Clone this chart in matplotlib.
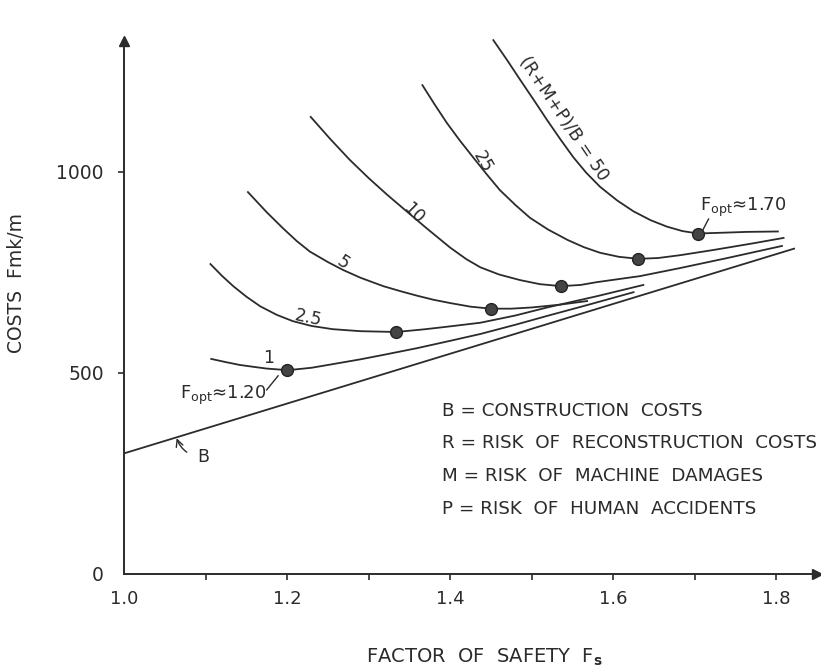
import matplotlib
matplotlib.use("Agg")
import matplotlib.pyplot as plt

plt.rcParams['font.family'] = ['DejaVu Sans']
plt.rcParams['mathtext.fontset'] = 'dejavusans'

# ---- data ----
b_fs = [1.0, 1.823]
b_cost = [300, 810]

c1_fs = [1.107, 1.125, 1.142, 1.16, 1.175, 1.201, 1.23, 1.256, 1.29, 1.318, 1.36,
         1.40, 1.437, 1.48, 1.519, 1.57, 1.625]
c1_cost = [535, 527, 520, 515, 511, 507, 513, 522, 534, 545, 562,
           580, 597, 620, 642, 670, 701]

c25_fs = [1.106, 1.12, 1.134, 1.15, 1.167, 1.187, 1.207, 1.23, 1.256, 1.29, 1.334,
          1.37, 1.40, 1.437, 1.48, 1.519, 1.58, 1.637]
c25_cost = [771, 742, 716, 690, 666, 645, 629, 617, 609, 604, 602,
            609, 616, 625, 643, 663, 691, 719]

c5_fs = [1.152, 1.175, 1.195, 1.212, 1.228, 1.25, 1.269, 1.29, 1.318, 1.34, 1.36,
         1.38, 1.40, 1.425, 1.45, 1.475, 1.50, 1.535, 1.568]
c5_cost = [950, 900, 860, 828, 802, 776, 756, 737, 716, 703, 692,
           682, 674, 665, 660, 660, 663, 670, 679]

c10_fs = [1.229, 1.253, 1.277, 1.30, 1.323, 1.345, 1.37, 1.40, 1.42, 1.437, 1.46,
          1.486, 1.51, 1.536, 1.56, 1.58, 1.633, 1.682, 1.74, 1.807]
c10_cost = [1137, 1082, 1030, 985, 943, 905, 862, 812, 783, 763, 745,
            731, 721, 716, 719, 726, 741, 761, 786, 816]

c25b_fs = [1.366, 1.381, 1.396, 1.412, 1.428, 1.445, 1.461, 1.48, 1.498, 1.52, 1.544,
           1.564, 1.584, 1.607, 1.631, 1.655, 1.682, 1.723, 1.77, 1.809]
c25b_cost = [1216, 1168, 1122, 1078, 1037, 994, 955, 918, 886, 857, 831,
             813, 799, 789, 784, 786, 793, 806, 822, 836]

c50_fs = [1.453, 1.47, 1.486, 1.503, 1.519, 1.535, 1.551, 1.567, 1.584, 1.605, 1.625,
          1.646, 1.666, 1.685, 1.704, 1.735, 1.764, 1.802]
c50_cost = [1328, 1278, 1229, 1178, 1129, 1082, 1037, 998, 963, 929, 902,
            880, 864, 853, 847, 849, 851, 852]

opt_fs = [1.20, 1.334, 1.45, 1.536, 1.631, 1.704]
opt_cost = [507, 602, 659, 716, 784, 846]

curve_labels = ["1", "2.5", "5", "10", "25", "(R+M+P)/B = 50"]
label_fs = [1.177, 1.226, 1.269, 1.355, 1.440, 1.539]
label_cost = [537, 637, 774, 898, 1025, 1134]
label_rot = [0, -12, -33, -45, -60, -56]

legend_lines = ["B = CONSTRUCTION  COSTS",
                "R = RISK  OF  RECONSTRUCTION  COSTS",
                "M = RISK  OF  MACHINE  DAMAGES",
                "P = RISK  OF  HUMAN  ACCIDENTS"]

x_ticks = [1.0, 1.2, 1.4, 1.6, 1.8]
x_minor = [1.1, 1.3, 1.5, 1.7]
y_ticks = [0, 500, 1000]

# ---- figure ----
ink = '#2b2b2b'
fig = plt.figure(figsize=(8.21, 6.68), dpi=100)
ax = fig.add_axes([0.15104, 0.14072, 0.8441, 0.7974])
ax.set_xlim(1.0, 1.85)
ax.set_ylim(0, 1325)

for s in ['top', 'right']:
    ax.spines[s].set_visible(False)
for s in ['left', 'bottom']:
    ax.spines[s].set_linewidth(1.4)
    ax.spines[s].set_color(ink)

ax.plot(1, 0, '>', color=ink, markersize=7, transform=ax.transAxes, clip_on=False)
ax.plot(0, 1, '^', color=ink, markersize=7, transform=ax.transAxes, clip_on=False)

ax.set_xticks(x_ticks)
ax.set_xticklabels([f"{v:.1f}" for v in x_ticks])
ax.set_xticks(x_minor, minor=True)
ax.set_yticks(y_ticks)
ax.set_yticklabels([str(v) for v in y_ticks])
ax.tick_params(axis='x', which='both', direction='out', length=4.5, width=1.2,
               color=ink, labelsize=13, labelcolor=ink, pad=7)
ax.tick_params(axis='y', direction='out', length=4.5, width=1.2,
               color=ink, labelsize=13.5, labelcolor=ink, pad=10)
ax.xaxis.get_major_ticks()[0].tick1line.set_visible(False)
ax.yaxis.get_major_ticks()[0].tick1line.set_visible(False)

lw = 1.3
ax.plot(b_fs, b_cost, color=ink, lw=lw, solid_capstyle='butt')
for xs, ys in [(c1_fs, c1_cost), (c25_fs, c25_cost), (c5_fs, c5_cost),
               (c10_fs, c10_cost), (c25b_fs, c25b_cost), (c50_fs, c50_cost)]:
    ax.plot(xs, ys, color=ink, lw=lw, clip_on=False, solid_joinstyle='round')

ax.plot(opt_fs, opt_cost, 'o', markersize=8.5, markerfacecolor='#444444',
        markeredgecolor='#222222', markeredgewidth=1.0, zorder=5, linestyle='none')

for t, x, y, r in zip(curve_labels, label_fs, label_cost, label_rot):
    ax.text(x, y, t, rotation=r, ha='center', va='center', fontsize=12.5,
            color=ink, rotation_mode='anchor')

# F_opt annotations
ax.text(1.069, 445, r"F$_{\rm opt}$≈1.20", ha='left', va='center', fontsize=13, color=ink)
ax.plot([1.175, 1.189], [458, 493], color=ink, lw=1.0)
ax.text(1.707, 912, r"F$_{\rm opt}$≈1.70", ha='left', va='center', fontsize=13, color=ink)
ax.plot([1.710, 1.717], [856, 883], color=ink, lw=1.0)

# B label with curved arrow
ax.annotate("B", xy=(1.064, 341), xytext=(1.097, 291), ha='center', va='center',
            fontsize=12.5, color=ink,
            arrowprops=dict(arrowstyle='->', color=ink, lw=1.0,
                            connectionstyle='arc3,rad=-0.35', shrinkA=6, shrinkB=1))

# legend text block
leg_y = [411, 443, 476, 509]
for t, py in zip(legend_lines, leg_y):
    fig.text(442 / 821, 1 - py / 668, t, ha='left', va='center', fontsize=13.2, color=ink)

fig.text(17 / 821, 1 - 283 / 668, "COSTS  Fmk/m", rotation=90, ha='center', va='center',
         fontsize=13.5, color=ink)
fig.text(484 / 821, 1 - 657 / 668, r"FACTOR  OF  SAFETY  F$_{\mathbf{s}}$", ha='center',
         va='center', fontsize=14, color=ink)

fig.savefig("out.png", dpi=100, facecolor='white')
